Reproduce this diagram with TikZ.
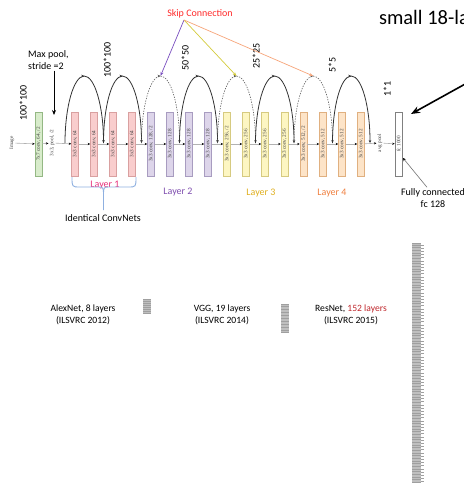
\documentclass[tikz,border=0pt]{standalone}
\usepackage{fontspec}
\setmainfont{Carlito}
\newfontfamily\boxfont{Liberation Serif}
\usepackage{tikz}
\usetikzlibrary{positioning,arrows.meta,decorations.markings}

\definecolor{pinkfill}{HTML}{F9CDCD}
\definecolor{pinkline}{HTML}{D9A0A0}
\definecolor{purplefill}{HTML}{DDD5EA}
\definecolor{purpleline}{HTML}{A89CC0}
\definecolor{yellowfill}{HTML}{FDF6C2}
\definecolor{yellowline}{HTML}{D6CA80}
\definecolor{orangefill}{HTML}{FDE4C8}
\definecolor{orangeline}{HTML}{E0B080}
\definecolor{greenfill}{HTML}{D8ECCB}
\definecolor{greenline}{HTML}{94B884}
\definecolor{skipred}{HTML}{FF2A2A}
\definecolor{skippurple}{HTML}{7A4FC0}
\definecolor{skipyellow}{HTML}{D4CC3C}
\definecolor{skiporange}{HTML}{F7A57A}
\definecolor{layerone}{HTML}{E8307A}
\definecolor{layertwo}{HTML}{8050B0}
\definecolor{layerthree}{HTML}{E0B020}
\definecolor{layerfour}{HTML}{F08040}
\definecolor{bracecol}{HTML}{8FB0E0}
\definecolor{deepred}{HTML}{C0282D}

\begin{document}
\begin{tikzpicture}[x=1pt, y=-1pt,
			label/.style={font=\fontsize{10}{12}\selectfont, inner sep=1pt},
			dim/.style={rotate=90, font=\fontsize{10}{12}\selectfont, inner sep=1pt},
			tiny/.style={rotate=90, font=\boxfont\fontsize{5.2}{6}\selectfont, text=black!75, inner sep=1pt},
			box/.style={rectangle, rotate=90, minimum width=64pt, minimum height=7pt, inner sep=0pt, line width=0.5pt, font=\boxfont\fontsize{5.2}{6}\selectfont, text=black!75},
			stem/.style={box, draw=greenline, fill=greenfill},
			layerA/.style={box, draw=pinkline, fill=pinkfill},
			layerB/.style={box, draw=purpleline, fill=purplefill},
			layerC/.style={box, draw=yellowline, fill=yellowfill},
			layerD/.style={box, draw=orangeline, fill=orangefill},
			fcbox/.style={box, draw=black!50, fill=white},
			flow/.style={draw=gray!60, line width=0.6pt, -{Stealth[length=2.5pt, width=2.2pt, color=black]}},
			arcmid/.style={postaction={decorate}, decoration={markings, mark=at position 0.5 with {\arrow{Stealth[length=3pt, width=2.6pt]}}}},
			shortcut/.style={draw=black!80, line width=0.8pt, arcmid, -{Stealth[length=3pt, width=2.6pt]}},
			projection/.style={shortcut, draw=black!65, line width=0.6pt, dash pattern=on 1.3pt off 1.3pt},
			pointer/.style={line width=0.6pt, -{Stealth[length=4pt, width=3pt]}},
			]
			\useasboundingbox (0,0) rectangle (464,483);
			\clip (0,0) rectangle (464,483);
			\fill[white] (0,0) rectangle (464,483);

			%Nodes
				\node[label, text=skipred]	(skip)		at (200,14)		{Skip Connection};
				\node[anchor=base west, font=\fontsize{20.5}{24}\selectfont]	(title)	at (375.5,24)	{small 18-la};
				\node[label, anchor=west, align=left]	(maxpool)	at (27,60)	{Max pool,\\stride =2};

				\node[tiny]		(image)		at (12,143)		{Image};
				\node[stem]		(c1)		at (38.5,144)	{7x7 conv, 64, /2};
				\node[tiny]		(pool)		at (52,143)		{3x3, pool, /2};
				\node[layerA]	(b1)		at (75,144)		{3x3 conv, 64};
				\node[layerA]	(b2)		at (94,144)		{3x3 conv, 64};
				\node[layerA]	(b3)		at (113,144)	{3x3 conv, 64};
				\node[layerA]	(b4)		at (132,144)	{3x3 conv, 64};
				\node[layerB]	(b5)		at (151,144)	{3x3 conv, 128, /2};
				\node[layerB]	(b6)		at (170,144)	{3x3 conv, 128};
				\node[layerB]	(b7)		at (189,144)	{3x3 conv, 128};
				\node[layerB]	(b8)		at (208,144)	{3x3 conv, 128};
				\node[layerC]	(b9)		at (227,144)	{3x3 conv, 256, /2};
				\node[layerC]	(b10)		at (246,144)	{3x3 conv, 256};
				\node[layerC]	(b11)		at (265,144)	{3x3 conv, 256};
				\node[layerC]	(b12)		at (284.5,144)	{3x3 conv, 256};
				\node[layerD]	(b13)		at (303.5,144)	{3x3 conv, 512, /2};
				\node[layerD]	(b14)		at (323,144)	{3x3 conv, 512};
				\node[layerD]	(b15)		at (342,144)	{3x3 conv, 512};
				\node[layerD]	(b16)		at (361,144)	{3x3 conv, 512};
				\node[tiny]		(avgpool)	at (380,143)	{avg pool};
				\node[fcbox]	(fc)		at (398.5,144)	{fc 1000};

				\node[dim]	(d100a)		at (23,103)		{100*100};
				\node[dim]	(d100b)		at (107,60)		{100*100};
				\node[dim]	(d50)		at (185,58)		{50*50};
				\node[dim]	(d25)		at (256,56)		{25*25};
				\node[dim]	(d5)		at (332,65)		{5*5};
				\node[dim]	(d1)		at (387,89)		{1*1};

				\node[label, text=layerone]		(lay1)	at (105,185)	{Layer 1};
				\node[label, text=layertwo]		(lay2)	at (178,192)	{Layer 2};
				\node[label, text=layerthree]	(lay3)	at (261,193)	{Layer 3};
				\node[label, text=layerfour]	(lay4)	at (332,193)	{Layer 4};
				\node[label]	(same)		at (103,218)	{Identical ConvNets};
				\node[label, align=center]	(fclab)	at (433,198)	{Fully connected\\fc 128};

				\node[label, font=\fontsize{9.6}{12}\selectfont, align=center]	(alex)	at (83,315)		{AlexNet, 8 layers\\(ILSVRC 2012)};
				\node[label, font=\fontsize{9.6}{12}\selectfont, align=center]	(vgg)	at (222,315)	{VGG, 19 layers\\(ILSVRC 2014)};
				\node[label, font=\fontsize{9.6}{12}\selectfont, align=center]	(res)	at (351,315)	{ResNet, \textcolor{deepred}{152 layers}\\(ILSVRC 2015)};

			%Coordinates on the main line and arc tops
				\coordinate (s1) at (65,143);
				\coordinate (s2) at (103.5,143);
				\coordinate (s3) at (141.5,143);
				\coordinate (s4) at (179.5,143);
				\coordinate (s5) at (217.5,143);
				\coordinate (s6) at (255.5,143);
				\coordinate (s7) at (294,143);
				\coordinate (s8) at (332.5,143);
				\coordinate (s9) at (370,143);
				\coordinate (t1) at (84.25,76);
				\coordinate (t2) at (122.5,76);
				\coordinate (t3) at (160.5,76);
				\coordinate (t4) at (198.5,76);
				\coordinate (t5) at (236.5,76);
				\coordinate (t6) at (274.75,76);
				\coordinate (t7) at (313.25,76);
				\coordinate (t8) at (351.25,76);
				\coordinate (skipsrc) at (184,20);
				\coordinate (poolin) at (54,115);
				\coordinate (fcpt) at (403,158);
				\coordinate (farrow) at (476,78);
				\coordinate (fctop) at (411,114);

			%Lines
				\foreach \a/\b in {image/c1, c1/pool, pool/b1, b1/b2, b2/b3, b3/b4, b4/b5, b5/b6, b6/b7, b7/b8, b8/b9, b9/b10, b10/b11, b11/b12, b12/b13, b13/b14, b14/b15, b15/b16, b16/avgpool, avgpool/fc}
					\draw[flow] (\a) -- (\b);

				\draw[shortcut]		(s1) .. controls +(0,-36.4) and +(-10.5,0) .. (t1) .. controls +(10.5,0) and +(0,-36.4) .. (s2);
				\draw[shortcut]		(s2) .. controls +(0,-36.4) and +(-10.5,0) .. (t2) .. controls +(10.5,0) and +(0,-36.4) .. (s3);
				\draw[projection]	(s3) .. controls +(0,-36.4) and +(-10.5,0) .. (t3) .. controls +(10.5,0) and +(0,-36.4) .. (s4);
				\draw[shortcut]		(s4) .. controls +(0,-36.4) and +(-10.5,0) .. (t4) .. controls +(10.5,0) and +(0,-36.4) .. (s5);
				\draw[projection]	(s5) .. controls +(0,-36.4) and +(-10.5,0) .. (t5) .. controls +(10.5,0) and +(0,-36.4) .. (s6);
				\draw[shortcut]		(s6) .. controls +(0,-36.4) and +(-10.5,0) .. (t6) .. controls +(10.5,0) and +(0,-36.4) .. (s7);
				\draw[projection]	(s7) .. controls +(0,-36.4) and +(-10.5,0) .. (t7) .. controls +(10.5,0) and +(0,-36.4) .. (s8);
				\draw[shortcut]		(s8) .. controls +(0,-36.4) and +(-10.5,0) .. (t8) .. controls +(10.5,0) and +(0,-36.4) .. (s9);

				\draw[pointer, draw=skippurple, line width=0.7pt]	(skipsrc) -- (t3);
				\draw[pointer, draw=skipyellow, line width=0.7pt]	(skipsrc) -- (t5);
				\draw[pointer, draw=skiporange, line width=0.7pt]	(skipsrc) -- (t7);

				\draw[pointer, line width=0.8pt, -{Stealth[length=5pt, width=4pt]}]	(maxpool.south -| poolin) -- (poolin);
				\draw[line width=1.6pt, -{Stealth[length=9pt, width=7pt]}]	(farrow) -- (fctop);
				\draw[pointer, draw=black!55, -{Stealth[length=3pt, width=3pt, color=black]}]	([xshift=-6pt]fclab.north) -- (fcpt);

				% brace under the first layer
				\draw[bracecol, line width=0.9pt] (72,177) .. controls (72,187) .. (80,187) -- (98,187) .. controls (103.5,187) .. (103.5,196) -- (103.5,210);
				\draw[bracecol, line width=0.9pt] (136,177) .. controls (136,187) .. (128,187) -- (109,187) .. controls (103.5,187) .. (103.5,196);

			% depth bars
				\fill[gray!75] (143,299) rectangle (151,314);
				\foreach \y in {300.5,302.5,...,313} \draw[gray!50, line width=0.5pt] (143,\y) -- (151,\y);
				\fill[gray!75] (281,304) rectangle (289,333);
				\foreach \y in {305.5,307,...,332} \draw[gray!50, line width=0.5pt] (281,\y) -- (289,\y);
				\fill[gray!75] (412,243) rectangle (421,490);
				\foreach \y in {244.5,246.1,...,483} \draw[gray!50, line width=0.4pt] (412,\y) -- (421,\y);
				\foreach \y in {245,248.2,...,483} \draw[gray!75, line width=0.8pt] (421,\y) -- (423.5,\y);
		\end{tikzpicture}
\end{document}
